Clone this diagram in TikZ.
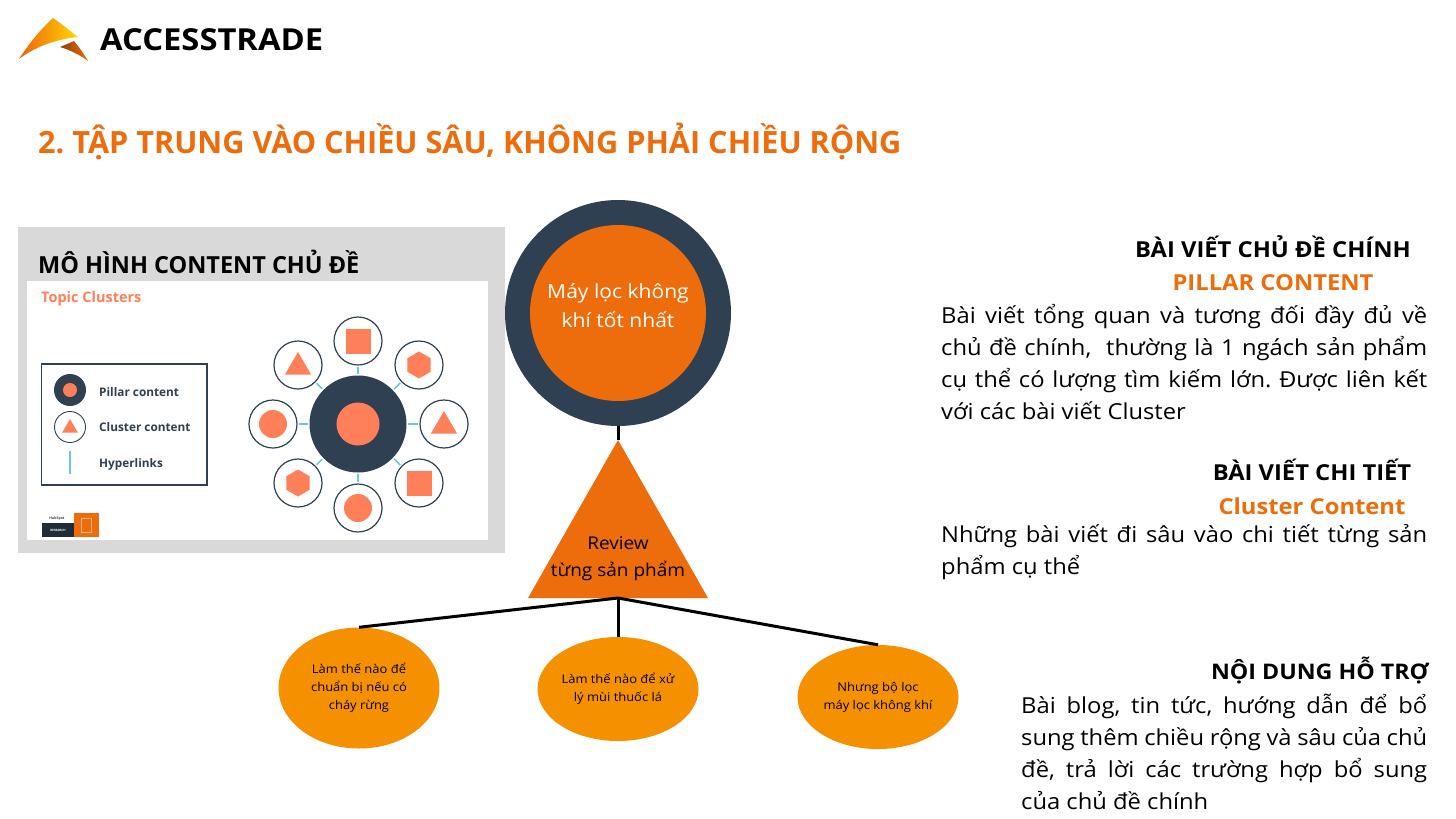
\documentclass[tikz,border=0pt]{standalone}
\usepackage{fontspec}
\setmainfont[FakeStretch=1.08]{Open Sans}
\newfontfamily\plainfont{Open Sans}
\usetikzlibrary{shapes.geometric}
\definecolor{brand}{HTML}{ED6C0C}
\definecolor{amberfill}{HTML}{F59100}
\definecolor{navy}{HTML}{2E4052}
\definecolor{coral}{HTML}{FF7F59}
\definecolor{teal}{HTML}{6CC9CF}
\definecolor{panel}{HTML}{D9D9D9}
\newcommand{\fsize}[2]{\fontsize{#1}{#2}\selectfont}

\begin{document}
\frenchspacing
\begin{tikzpicture}[x=1pt,y=-1pt,
    heading/.style={inner sep=0,font=\fsize{22}{26}\bfseries},
    subheading/.style={heading,text=brand},
    bodytext/.style={inner sep=0,anchor=north west,align=justify,font=\fsize{22}{32}},
    pillarring/.style={circle,fill=navy,inner sep=0,minimum size=226pt},
    pillarcore/.style={circle,fill=brand,inner sep=0,minimum size=176pt},
    corelabel/.style={inner sep=0,text=white,align=center,font=\fsize{19.5}{29}},
    leaf/.style={ellipse,fill=amberfill,inner sep=0,minimum width=161pt,align=center,font=\fsize{12}{18}},
    branch/.style={line width=3pt,black},
    legendtext/.style={inner sep=0,anchor=base west,text=navy,font=\plainfont\fsize{11.8}{15}\bfseries},
    sat/.style={circle,draw=navy,fill=white,line width=1.2pt,inner sep=0,minimum size=48pt},
    link/.style={teal,line width=1.6pt,shorten >=1.5pt,shorten <=1.5pt},
    dotshape/.style={circle,fill=coral,inner sep=0,minimum size=28pt},
    squareshape/.style={rectangle,fill=coral,inner sep=0,minimum size=25pt},
    trishape/.style={regular polygon,regular polygon sides=3,fill=coral,inner sep=0,minimum size=30pt},
    hexshape/.style={regular polygon,regular polygon sides=6,shape border rotate=30,fill=coral,inner sep=0,minimum size=27pt}]

    \useasboundingbox (0,0) rectangle (1456,819);
    \fill[white] (0,0) rectangle (1456,819);

    % logo
    \shade[left color=brand!90!red,right color=yellow!70!orange]
      (19,59) .. controls (30,42) and (42,28) .. (53,18) .. controls (62,24) and (70,31) .. (78,37)
      .. controls (58,39) and (36,46) .. cycle;
    \shade[left color=brand!60!black,right color=brand]
      (60,47) -- (74,41) .. controls (79,47) and (84,54) .. (88,61) .. controls (80,55) and (70,50) .. cycle;
    \node[inner sep=0,anchor=base west,font=\fsize{30.3}{32}\bfseries] (brandname) at (100,50) {ACCESSTRADE};

    \node[inner sep=0,anchor=base west,text=brand,font=\plainfont\fsize{30.65}{36}\bfseries] (title) at (38,153)
      {2. TẬP TRUNG VÀO CHIỀU SÂU, KHÔNG PHẢI CHIỀU RỘNG};

    % left panel
    \fill[panel] (18,227) rectangle (505,553);
    \fill[white] (27,281) rectangle (488,540);
    \node[inner sep=0,anchor=base west,font=\plainfont\fsize{23.5}{28}\bfseries] (paneltitle) at (38,273) {MÔ HÌNH CONTENT CHỦ ĐỀ};
    \node[inner sep=0,anchor=base west,text=coral,font=\plainfont\fsize{14.5}{18}\bfseries] (topic) at (41,302) {Topic Clusters};

    % legend
    \draw[navy,line width=1.2pt] (41.5,364) rectangle (207,485);
    \node[circle,fill=navy,inner sep=0,minimum size=32pt] (lpillar) at (70,390) {};
    \node[dotshape,minimum size=14pt] (lpillarcore) at (70,390) {};
    \node[sat,minimum size=31pt,line width=.9pt] (lcluster) at (70,427) {};
    \node[trishape,minimum size=18pt] (lclustertri) at (70,428) {};
    \coordinate (llinka) at (70,451);
    \coordinate (llinkb) at (70,474);
    \draw[teal,line width=1.6pt] (llinka) -- (llinkb);
    \node[legendtext] (lpillartext) at (99,396) {Pillar content};
    \node[legendtext] (lclustertext) at (99,431) {Cluster content};
    \node[legendtext] (llinktext) at (99,467) {Hyperlinks};

    % topic cluster
    \node[circle,fill=navy,inner sep=0,minimum size=97pt] (hub) at (358,424) {};
    \node[dotshape,minimum size=43pt] (hubcore) at (358,424) {};
    \node[sat] (s1) at (358,341) {};
    \node[sat] (s2) at (419,365) {};
    \node[sat] (s3) at (444,424) {};
    \node[sat] (s4) at (419,483) {};
    \node[sat] (s5) at (358,508) {};
    \node[sat] (s6) at (298,483) {};
    \node[sat] (s7) at (273,424) {};
    \node[sat] (s8) at (298,365) {};
    \foreach \s in {s1,s2,s3,s4,s5,s6,s7,s8}
      \draw[link] (hub) -- (\s);
    \node[squareshape] (i1) at (s1) {};
    \node[hexshape] (i2) at (s2) {};
    \node[trishape] (i3) at (444,426) {};
    \node[squareshape] (i4) at (s4) {};
    \node[dotshape] (i5) at (s5) {};
    \node[hexshape] (i6) at (s6) {};
    \node[dotshape] (i7) at (s7) {};
    \node[trishape] (i8) at (298,367) {};

    % small badge
    \fill[navy!70!black] (42,523) rectangle (74,537);
    \fill[brand] (74,513) rectangle (99,537);
    \draw[white!50!brand,line width=.4pt] (81,518) rectangle (91,532);
    \node[inner sep=0,text=navy,font=\plainfont\fsize{3.5}{4}\bfseries] (badgea) at (57,518.5) {HubSpot};
    \node[inner sep=0,text=white,font=\plainfont\fsize{3}{4}\bfseries] (badgeb) at (58,530) {RESEARCH};

    % pillar and cluster
    \node[pillarring] (pillar) at (618,313) {};
    \node[pillarcore] (core) at (618,313) {};
    \node[corelabel] (coretext) at (618,306) {Máy lọc không\\khí tốt nhất};
    \coordinate (apex) at (618,440);
    \coordinate (baseleft) at (528,598);
    \coordinate (baseright) at (708,598);
    \coordinate (basemid) at (618,598);
    \fill[brand] (apex) -- (baseright) -- (baseleft) -- cycle;
    \node[inner sep=0,align=center,font=\fsize{17.6}{27}] (review) at (618,559) {Review\\từng sản phẩm};
    \draw[branch] (pillar.south) -- (apex);

    \node[leaf,minimum height=121pt] (leafa) at (359,688) {Làm thế nào để\\chuẩn bị nếu có\\cháy rừng};
    \node[leaf,minimum height=104pt] (leafb) at (618,689) {Làm thế nào để xử\\lý mùi thuốc lá};
    \node[leaf,minimum height=104pt] (leafc) at (878,697) {Nhưng bộ lọc\\máy lọc không khí};
    \draw[branch] (basemid) -- (leafa.north);
    \draw[branch] (basemid) -- (leafb.north);
    \draw[branch] (basemid) -- (leafc.north);

    % right column
    \node[heading] (h1) at (1273,246.5) {BÀI VIẾT CHỦ ĐỀ CHÍNH};
    \node[subheading] (h1b) at (1273,283) {PILLAR CONTENT};
    \node[bodytext,text width=486pt] (p1) at (941,304)
      {Bài viết tổng quan và tương đối đầy đủ về\linebreak
       chủ đề chính,~~thường là 1 ngách sản phẩm\linebreak
       cụ thể có lượng tìm kiếm lớn. Được liên kết\linebreak
       với các bài viết Cluster};

    \node[heading] (h2) at (1312,469.5) {BÀI VIẾT CHI TIẾT};
    \node[subheading] (h2b) at (1312,506) {Cluster Content};
    \node[bodytext,text width=486pt] (p2) at (941,524)
      {Những bài viết đi sâu vào chi tiết từng sản\linebreak
       phẩm cụ thể};

    \node[heading,anchor=east,font=\fsize{21.5}{26}\bfseries] (h3) at (1429,670) {NỘI DUNG HỖ TRỢ};
    \node[bodytext,text width=406pt] (p3) at (1021,694)
      {Bài blog, tin tức, hướng dẫn để bổ\linebreak
       sung thêm chiều rộng và sâu của chủ\linebreak
       đề, trả lời các trường hợp bổ sung\linebreak
       của chủ đề chính};
\end{tikzpicture}
\end{document}
